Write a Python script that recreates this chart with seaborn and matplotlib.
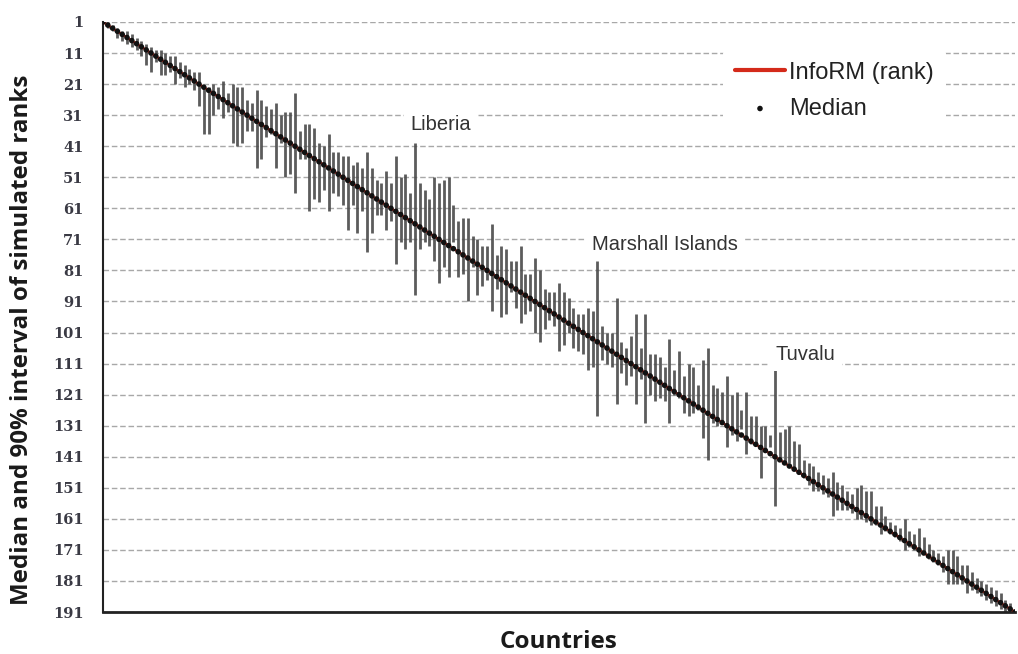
import numpy as np
import pandas as pd
import matplotlib
matplotlib.use("Agg")
import matplotlib.pyplot as plt
import seaborn as sns

# ---- data ----
countries = list(range(1, 192))
inform_rank = list(range(1, 192))
median_rank = list(range(1, 192))
lower_rank = [1, 1, 2, 3, 4, 4, 5, 6, 7, 8, 9, 10, 10, 11, 12, 12, 14, 15, 16, 17,
              17, 22, 22, 21, 22, 20, 24, 21, 22, 22, 26, 27, 23, 26, 28, 29, 27, 31, 30, 30,
              24, 36, 34, 34, 35, 40, 41, 37, 43, 43, 44, 44, 47, 46, 48, 43, 48, 52, 53, 49,
              53, 44, 51, 50, 56, 40, 53, 55, 58, 51, 53, 52, 51, 60, 65, 64, 64, 70, 71, 73,
              73, 66, 76, 73, 74, 78, 78, 73, 82, 82, 77, 81, 87, 88, 88, 85, 88, 90, 93, 95,
              95, 93, 94, 78, 99, 101, 101, 90, 104, 106, 102, 95, 106, 95, 108, 108, 109, 112, 103, 113,
              107, 115, 111, 112, 118, 110, 106, 118, 119, 120, 115, 121, 120, 126, 120, 128, 128, 131, 131, 134,
              113, 133, 132, 131, 136, 137, 142, 143, 144, 146, 147, 148, 146, 149, 150, 152, 153, 151, 150, 152,
              152, 157, 157, 160, 162, 163, 164, 161, 165, 166, 164, 167, 169, 171, 172, 173, 171, 171, 173, 176,
              176, 178, 180, 181, 182, 183, 184, 185, 187, 188, 190]
upper_rank = [1, 3, 4, 6, 7, 8, 9, 10, 12, 15, 17, 14, 18, 18, 17, 21, 19, 22, 21, 23,
              28, 37, 37, 31, 29, 32, 30, 40, 41, 40, 36, 36, 48, 45, 38, 37, 48, 40, 51, 50,
              56, 45, 45, 62, 58, 59, 55, 62, 56, 57, 60, 68, 60, 69, 62, 75, 69, 63, 63, 68,
              65, 79, 72, 74, 72, 89, 74, 72, 73, 78, 85, 80, 83, 72, 83, 82, 91, 80, 89, 86,
              84, 94, 87, 96, 95, 88, 93, 98, 95, 94, 101, 104, 100, 97, 99, 107, 105, 101, 106, 107,
              108, 113, 112, 128, 110, 111, 112, 124, 114, 118, 115, 124, 116, 130, 121, 123, 122, 123, 130, 121,
              122, 127, 128, 127, 126, 135, 142, 130, 131, 130, 138, 134, 136, 132, 140, 137, 137, 148, 139, 138,
              157, 142, 143, 143, 145, 146, 148, 150, 152, 152, 153, 154, 160, 158, 158, 158, 159, 161, 161, 162,
              163, 163, 166, 165, 166, 167, 168, 171, 170, 171, 173, 172, 174, 175, 176, 178, 182, 182, 182, 182,
              185, 184, 185, 186, 187, 188, 189, 190, 191, 191, 191]
y_ticks = list(range(1, 192, 10))
annot_names = ["Liberia", "Marshall Islands", "Tuvalu"]
annot_x = [71.4, 118.0, 147.3]
annot_y = [33.9, 72.8, 108.2]

df = pd.DataFrame({"country": countries, "inform": inform_rank, "median": median_rank,
                   "lo": lower_rank, "hi": upper_rank})

sns.set_theme(style="white")
fig = plt.figure(figsize=(10.18, 6.54), dpi=100)
ax = fig.add_axes([0.1012, 0.0642, 0.8958, 0.9022])

for t in y_ticks:
    ax.axhline(t, color="#a8a8a8", lw=1.0, ls=(0, (4, 2)), zorder=0)

ax.vlines(df["country"], df["lo"], df["hi"], color="#4a4a4a", lw=2.0, alpha=0.9, zorder=2)
sns.lineplot(data=df, x="country", y="inform", color="#d42a1a", lw=1.8, ax=ax, zorder=3,
             label="InfoRM (rank)")
sns.scatterplot(data=df, x="country", y="median", color="#111111", s=16, edgecolor="none",
                ax=ax, zorder=4, label="Median")

ax.set_xlim(1, 191)
ax.set_ylim(191, 1)
ax.set_yticks(y_ticks)
ax.set_xticks([])
for lab in ax.get_yticklabels():
    lab.set_fontfamily("DejaVu Serif")
    lab.set_fontweight("bold")
    lab.set_fontsize(10.5)
    lab.set_color("#3a3a44")
ax.tick_params(axis="y", length=0, pad=14)

for s in ["top", "right"]:
    ax.spines[s].set_visible(False)
ax.spines["left"].set_color("#222222")
ax.spines["left"].set_linewidth(1.5)
ax.spines["bottom"].set_color("#222222")
ax.spines["bottom"].set_linewidth(2.0)

ax.set_xlabel("Countries", fontfamily="Open Sans", fontweight="bold", fontsize=17.5,
              color="#1a1a1a", labelpad=13)
ax.set_ylabel("Median and 90% interval of simulated ranks", fontfamily="Open Sans",
              fontweight="bold", fontsize=17.4, color="#1a1a1a")
ax.yaxis.set_label_coords(-0.076, 0.462)

for name, cx, cy in zip(annot_names, annot_x, annot_y):
    ax.text(cx, cy, name, ha="center", va="center", fontsize=14.5, color="#333333",
            fontfamily="Liberation Sans",
            bbox=dict(facecolor="white", edgecolor="none", pad=5), zorder=5)

leg = ax.legend(loc="upper left", bbox_to_anchor=(0.699, 0.942), bbox_transform=fig.transFigure,
                frameon=True, facecolor="white", edgecolor="none", framealpha=1,
                prop={"family": "Liberation Sans", "size": 17},
                handlelength=2.1, handletextpad=0.2, labelspacing=0.6, borderpad=0.5)
for txt in leg.get_texts():
    txt.set_color("#222222")
leg.legend_handles[0].set_linewidth(3.0)

fig.savefig("out.png", dpi=100)
